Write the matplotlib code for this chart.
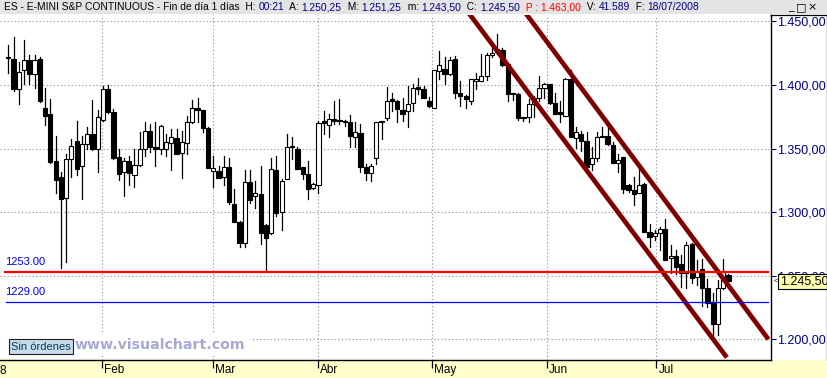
import numpy as np
import matplotlib.pyplot as plt
import matplotlib.transforms as mtransforms
from matplotlib.patches import Rectangle
from matplotlib.lines import Line2D
from matplotlib.offsetbox import TextArea, HPacker, AnchoredOffsetbox

# ES e-mini S&P, daily candles Jan -> 18 Jul 2008
opens = [1422.0, 1420.8, 1396.6, 1412.2, 1420.0, 1408.3, 1420.8, 1381.8, 1377.0, 1340.6,
         1328.0, 1311.5, 1342.0, 1356.2, 1336.0, 1354.0, 1361.5, 1349.7, 1372.4, 1396.6,
         1379.0, 1343.0, 1331.5, 1340.0, 1329.4, 1337.2, 1349.4, 1363.5, 1351.6, 1349.7,
         1349.7, 1354.7, 1358.3, 1346.4, 1354.4, 1370.6, 1381.8, 1380.2, 1366.0, 1332.3,
         1332.3, 1327.6, 1335.4, 1306.8, 1292.4, 1276.0, 1323.7, 1312.5, 1314.6, 1289.8,
         1283.3, 1333.3, 1300.3, 1326.3, 1351.6, 1349.7, 1335.4, 1330.2, 1319.3, 1321.6,
         1371.9, 1368.8, 1373.2, 1372.4, 1371.4, 1371.0, 1358.9, 1362.2, 1335.4, 1330.7,
         1342.7, 1371.0, 1374.0, 1388.8, 1387.5, 1380.2, 1379.2, 1386.2, 1398.4, 1396.6,
         1387.5, 1382.3, 1411.0, 1413.0, 1408.3, 1420.8, 1394.0, 1391.4, 1387.5, 1403.5,
         1403.0, 1407.0, 1424.0, 1426.0, 1427.9, 1416.7, 1393.2, 1393.2, 1374.5, 1374.5,
         1385.0, 1389.6, 1397.4, 1400.5, 1386.2, 1378.4, 1375.8, 1404.4, 1358.3, 1361.5,
         1356.2, 1337.5, 1342.7, 1359.4, 1360.0, 1353.0, 1338.5, 1343.2, 1321.0, 1317.7,
         1315.0, 1322.4, 1284.6, 1281.3, 1283.3, 1286.5, 1263.8, 1265.6, 1259.4, 1252.0,
         1274.8, 1249.0, 1255.2, 1240.4, 1229.2, 1212.2, 1240.4, 1250.25]
highs = [1431.8, 1437.5, 1418.0, 1435.7, 1424.0, 1424.0, 1421.9, 1398.0, 1388.8, 1360.0,
         1331.5, 1346.0, 1357.5, 1371.9, 1360.0, 1367.0, 1388.0, 1380.0, 1399.0, 1400.0,
         1381.0, 1349.7, 1343.0, 1344.0, 1349.7, 1362.8, 1370.6, 1369.3, 1370.6, 1368.8,
         1361.5, 1365.4, 1365.4, 1364.0, 1375.8, 1388.3, 1389.6, 1380.5, 1367.0, 1344.0,
         1336.7, 1344.5, 1343.0, 1318.5, 1292.8, 1332.8, 1332.8, 1324.5, 1336.7, 1290.5,
         1343.0, 1343.8, 1326.0, 1361.5, 1359.4, 1351.0, 1335.8, 1340.6, 1323.0, 1372.0,
         1379.7, 1377.0, 1387.5, 1388.8, 1372.5, 1376.3, 1370.6, 1369.3, 1337.5, 1337.5,
         1371.0, 1372.0, 1398.4, 1394.0, 1388.0, 1389.6, 1399.2, 1401.0, 1405.2, 1399.2,
         1390.6, 1412.0, 1426.6, 1421.9, 1422.0, 1422.6, 1403.0, 1391.8, 1404.4, 1409.6,
         1424.5, 1425.3, 1429.0, 1440.0, 1429.0, 1417.4, 1394.0, 1393.5, 1375.0, 1389.0,
         1391.4, 1407.0, 1401.8, 1400.8, 1394.0, 1387.5, 1405.2, 1411.5, 1366.7, 1364.0,
         1362.8, 1351.0, 1362.8, 1367.2, 1370.6, 1355.0, 1345.8, 1343.5, 1322.4, 1327.6,
         1336.7, 1322.6, 1291.0, 1286.0, 1288.5, 1295.0, 1274.2, 1270.3, 1266.4, 1276.8,
         1275.5, 1262.5, 1263.0, 1247.4, 1236.5, 1246.9, 1263.0, 1251.25]
lows = [1409.6, 1395.0, 1384.9, 1400.5, 1400.5, 1398.0, 1387.0, 1368.8, 1339.0, 1315.0,
        1256.0, 1261.0, 1327.6, 1329.0, 1310.0, 1349.7, 1349.0, 1331.5, 1372.0, 1378.0,
        1342.0, 1325.0, 1312.8, 1321.0, 1319.8, 1336.5, 1344.5, 1347.0, 1336.7, 1345.8,
        1344.5, 1332.8, 1345.5, 1327.0, 1345.8, 1370.3, 1370.6, 1362.8, 1334.5, 1320.0,
        1326.5, 1321.0, 1306.8, 1292.0, 1272.4, 1272.4, 1307.3, 1302.9, 1275.0, 1254.5,
        1283.0, 1297.0, 1286.0, 1326.0, 1342.0, 1334.0, 1326.0, 1310.0, 1318.0, 1315.0,
        1361.5, 1358.9, 1369.3, 1369.3, 1368.0, 1351.0, 1351.0, 1331.5, 1325.5, 1324.5,
        1337.5, 1357.6, 1372.6, 1379.7, 1370.6, 1371.9, 1367.2, 1379.7, 1392.7, 1389.5,
        1383.0, 1381.8, 1404.4, 1400.5, 1408.0, 1390.0, 1383.6, 1381.8, 1385.0, 1396.6,
        1403.0, 1403.6, 1422.0, 1424.7, 1415.0, 1387.5, 1388.0, 1372.4, 1371.5, 1370.6,
        1374.5, 1387.5, 1389.6, 1385.4, 1377.0, 1370.6, 1375.5, 1358.9, 1350.3, 1348.0,
        1335.0, 1332.8, 1340.6, 1358.9, 1353.0, 1338.5, 1331.5, 1315.0, 1315.9, 1305.5,
        1315.0, 1284.6, 1272.9, 1278.0, 1270.3, 1262.0, 1252.0, 1251.6, 1240.9, 1240.4,
        1244.5, 1243.0, 1226.0, 1225.5, 1201.3, 1203.0, 1239.6, 1243.5]
closes = [1421.0, 1396.6, 1410.4, 1420.0, 1408.3, 1420.0, 1387.5, 1376.0, 1339.3, 1325.5,
          1310.0, 1342.0, 1352.0, 1333.6, 1354.0, 1361.5, 1349.7, 1374.5, 1396.6, 1378.4,
          1342.7, 1330.0, 1340.0, 1330.7, 1337.2, 1349.7, 1363.5, 1351.0, 1349.7, 1368.0,
          1355.5, 1358.9, 1345.8, 1355.0, 1370.6, 1381.8, 1380.2, 1366.0, 1335.0, 1334.9,
          1327.0, 1335.4, 1308.0, 1292.4, 1276.0, 1323.7, 1309.4, 1315.0, 1283.3, 1279.4,
          1334.0, 1299.0, 1324.5, 1351.6, 1351.0, 1334.3, 1330.2, 1318.5, 1321.9, 1370.0,
          1370.0, 1373.2, 1371.9, 1371.9, 1370.6, 1359.6, 1362.8, 1335.4, 1330.7, 1336.0,
          1371.0, 1371.3, 1387.5, 1387.5, 1381.0, 1377.6, 1385.0, 1397.4, 1396.6, 1390.0,
          1383.6, 1411.5, 1415.4, 1408.3, 1420.0, 1394.0, 1391.4, 1388.8, 1404.4, 1404.4,
          1407.0, 1424.0, 1425.5, 1428.0, 1416.0, 1393.2, 1393.0, 1374.0, 1374.0, 1385.0,
          1389.6, 1397.4, 1400.5, 1386.2, 1377.6, 1377.0, 1404.4, 1358.9, 1362.8, 1355.7,
          1335.4, 1342.7, 1359.4, 1359.6, 1353.6, 1338.5, 1341.0, 1318.5, 1317.7, 1314.6,
          1321.6, 1284.6, 1280.2, 1283.3, 1286.5, 1262.0, 1265.6, 1256.8, 1252.0, 1274.2,
          1248.2, 1253.4, 1240.4, 1228.6, 1211.7, 1240.4, 1253.4, 1245.5]

month_labels = ['Feb', 'Mar', 'Abr', 'May', 'Jun', 'Jul']
month_pos = [17.8, 38.9, 58.9, 80.6, 102.5, 123.3]   # in bar units
price_ticks = [1200, 1250, 1300, 1350, 1400, 1450]
level_red = 1253.0
level_blue = 1229.0
# downtrend channel, two anchor points each (bar, price)
channel_upper = ([99.6, 144.6], [1450.0, 1200.0])
channel_lower = ([88.8, 136.7], [1450.0, 1185.7])

header = [("ES - E-MINI S&P CONTINUOUS - Fin de día 1 días  H: ", 'k'), ("00:21", 'navy'),
          ("  A: ", 'k'), ("1.250,25", 'navy'), ("  M: ", 'k'), ("1.251,25", 'navy'),
          ("  m: ", 'k'), ("1.243,50", 'navy'), ("  C: ", 'k'), ("1.245,50", 'navy'),
          ("  P : 1.463,00", 'red'), ("  V: ", 'k'), ("41.589", 'navy'),
          ("  F: ", 'k'), ("18/07/2008", 'navy')]

W, H = 828, 378
plt.rcParams['font.family'] = ['Liberation Sans', 'DejaVu Sans']


def fx(x):
    return x / W


def fy(y):
    return 1 - y / H


def es_fmt(v):
    return f"{v:,.2f}".replace(',', '#').replace('.', ',').replace('#', '.')


fig = plt.figure(figsize=(W / 100, H / 100), dpi=100)
fig.patch.set_facecolor('white')

# window header and date strip
fig.add_artist(Rectangle((0, fy(14)), 1, 14 / H, transform=fig.transFigure,
                         fc='#E4E4E4', ec='none', zorder=-2))
fig.add_artist(Rectangle((0, 0), 1, 18 / H, transform=fig.transFigure,
                         fc='#FFFFCC', ec='none', zorder=-2))

ax = fig.add_axes([0, fy(360), fx(771), (360 - 15) / H])
ax.set_facecolor('white')
ax.set_xlim(-1.58, 145.1)
ax.set_ylim(1183.7, 1455.1)

# candles
bw = 0.8
for i in range(len(opens)):
    o, h, l, c = opens[i], highs[i], lows[i], closes[i]
    ax.add_line(Line2D([i, i], [l, h], color='black', lw=0.9, zorder=3))
    body = max(abs(c - o), 0.8)
    ax.add_patch(Rectangle((i - bw / 2, min(o, c)), bw, body,
                           fc='white' if c >= o else 'black', ec='black',
                           lw=0.8, zorder=4))

# channel, start of each line carried up past the top of the panel
for xs, ys in [channel_upper, channel_lower]:
    slope = (ys[1] - ys[0]) / (xs[1] - xs[0])
    x_top = xs[0] + (1460.0 - ys[0]) / slope
    ax.plot([x_top, xs[1]], [1460.0, ys[1]], color='#800000', lw=3.4,
            solid_capstyle='butt', zorder=5)

# horizontal levels
ax.axhline(level_red, xmin=5 / 771, xmax=768 / 771, color='red', lw=1.6, zorder=6)
ax.axhline(level_blue, xmin=6 / 771, xmax=768 / 771, color='blue', lw=0.9, zorder=6)
ax.annotate(f"{level_red:.2f}", xy=(0, level_red), xycoords=('axes fraction', 'data'),
            xytext=(5, 5), textcoords='offset pixels', color='#0000DD',
            fontsize=8, va='bottom', ha='left', zorder=7)
ax.annotate(f"{level_blue:.2f}", xy=(0, level_blue), xycoords=('axes fraction', 'data'),
            xytext=(5, 5), textcoords='offset pixels', color='#0000DD',
            fontsize=8, va='bottom', ha='left', zorder=7)

# grid / axes
ax.set_xticks(month_pos)
ax.set_xticklabels([])
ax.set_yticks(price_ticks)
ax.set_yticklabels([es_fmt(v) for v in price_ticks])
ax.yaxis.tick_right()
ax.tick_params(axis='y', direction='out', length=3.5, width=0.8, color='navy',
               labelcolor='navy', labelsize=9, pad=1)
ax.tick_params(axis='x', direction='out', length=6, width=0.9, color='black')
ax.grid(True, color='#8C8C8C', linestyle=(0, (1, 2.2)), lw=0.8)
ax.set_axisbelow(True)
for s in ['top', 'left']:
    ax.spines[s].set_visible(False)
ax.spines['right'].set_linewidth(1.0)
ax.spines['bottom'].set_linewidth(1.0)

trans = mtransforms.blended_transform_factory(ax.transData, ax.transAxes)
for pos, lab in zip(month_pos, month_labels):
    ax.annotate(lab, xy=(pos, 0), xycoords=trans, xytext=(2, -4),
                textcoords='offset pixels', ha='left', va='top', fontsize=8.5,
                annotation_clip=False)
fig.text(fx(0), fy(371), "8", fontsize=8.5, va='center', ha='left')

# last price marker on the scale
ax.annotate(es_fmt(closes[-1]), xy=(1, closes[-1]), xycoords=('axes fraction', 'data'),
            xytext=(9, 0), textcoords='offset pixels', ha='left', va='center',
            fontsize=9, color='black', annotation_clip=False, zorder=10,
            bbox=dict(boxstyle='square,pad=0.15', fc='#FFFFB0', ec='black', lw=0.8))
ax.annotate("<", xy=(1, closes[-1]), xycoords=('axes fraction', 'data'),
            xytext=(3, 0), textcoords='offset pixels', ha='left', va='center',
            fontsize=5, color='black', annotation_clip=False, zorder=10)

# right panel frame
fig.add_artist(Line2D([fx(771), fx(828)], [fy(14.5), fy(14.5)], transform=fig.transFigure,
                      color='black', lw=0.9))
fig.add_artist(Line2D([fx(827.5), fx(827.5)], [fy(14.5), fy(360)], transform=fig.transFigure,
                      color='black', lw=0.9))
fig.add_artist(Line2D([fx(771), fx(771)], [fy(14.5), fy(16)], transform=fig.transFigure,
                      color='black', lw=1.0))

# header text
parts = [TextArea(t, textprops=dict(color=c, fontsize=7.4)) for t, c in header]
pack = HPacker(children=parts, sep=0, pad=0, align='baseline')
fig.add_artist(AnchoredOffsetbox(loc='center left', child=pack, pad=0, borderpad=0,
                                 frameon=False, bbox_to_anchor=(fx(4), fy(7)),
                                 bbox_transform=fig.transFigure))
for xb, g in [(791, '_'), (801, '□'), (812, '×')]:
    fig.text(fx(xb), fy(7), g, fontsize=8, ha='center', va='center',
             family='DejaVu Sans', color='black')

# bottom-left badges
fig.add_artist(Rectangle((0, fy(356)), fx(250), 22 / H, transform=fig.transFigure,
                         fc='white', ec='none', zorder=4))
fig.text(fx(11), fy(346.5), "Sin órdenes", fontsize=8, color='#003E52',
         va='center', ha='left', zorder=6,
         bbox=dict(boxstyle='square,pad=0.2', fc='#C9DCEE', ec='#202020', lw=0.8))
fig.text(fx(75), fy(345), "www.visualchart.com", fontsize=10.2, fontweight='bold',
         color='#A8A8D4', va='center', ha='left', family='DejaVu Sans', zorder=6)

fig.savefig('out.png', dpi=100)
